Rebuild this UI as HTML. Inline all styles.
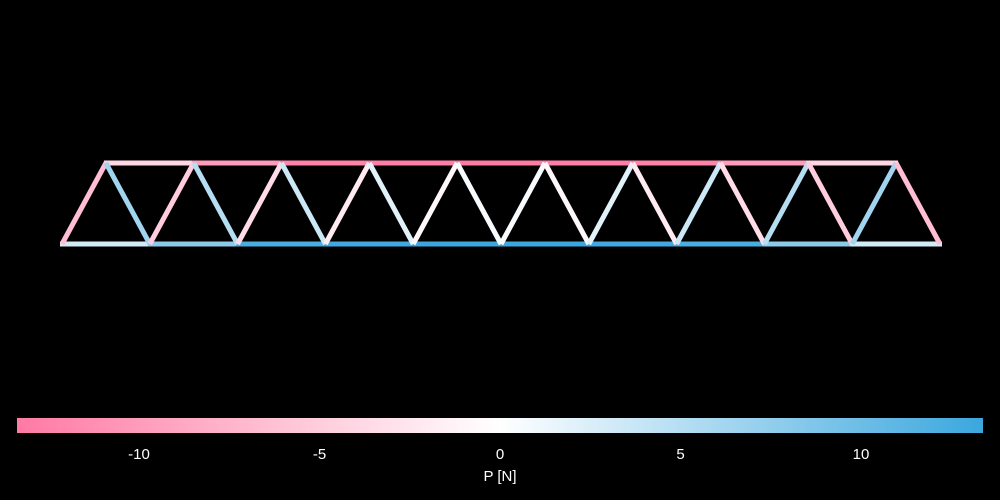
<!DOCTYPE html>
<html><head><meta charset="utf-8"><style>
html,body{margin:0;padding:0;background:#000;}
svg{display:block;}
text{font-family:"Liberation Sans",sans-serif;fill:#fff;}
</style></head><body>
<svg id="c" width="1000" height="500">
<defs><linearGradient id="cg" x1="0" x2="1" y1="0" y2="0">
<stop offset="0" stop-color="#ff7aa4"/><stop offset="0.5" stop-color="#ffffff"/><stop offset="1" stop-color="#3ba7de"/>
</linearGradient></defs>
<g id="members"></g>
<rect x="17" y="418" width="966" height="15" fill="url(#cg)"/>
<g id="ticks"></g>
<text x="500" y="481" font-size="15" text-anchor="middle">P [N]</text>
</svg>
<script>
const bottomForces = [3, 8, 12.5, 13, 13.4, 13.4, 13, 12.5, 8, 3];
const topForces = [-4, -10, -12.5, -13, -13.4, -13, -12.5, -10, -4];
const diagForces = [-6.5, 6.5, -5, 5, -3.5, 3.5, -2, 2, -0.7, 0.5, 0.5, -0.7, 2, -2, 3.5, -3.5, 5, -5, 6.5, -6.5];
const tickValues = [-10, -5, 0, 5, 10];
const nBays = 10;
const vmax = 13.38;

const NS = 'http://www.w3.org/2000/svg';
const x0 = 62, bayW = 87.8, yBot = 244, yTop = 163;
const xb = i => x0 + i * bayW;
const xt = i => x0 + (i + 0.5) * bayW;
const cx = v => 500 + v / vmax * 483;
function color(v) {
  let t = Math.max(-1, Math.min(1, v / vmax));
  const w = [255, 255, 255], p = [255, 122, 164], b = [59, 167, 222];
  const e = t < 0 ? p : b; t = Math.abs(t);
  return 'rgb(' + w.map((c, k) => Math.round(c + (e[k] - c) * t)).join(',') + ')';
}
const g = document.getElementById('members');
function line(x1, y1, x2, y2, v, name) {
  const l = document.createElementNS(NS, 'line');
  l.setAttribute('x1', x1); l.setAttribute('y1', y1);
  l.setAttribute('x2', x2); l.setAttribute('y2', y2);
  l.setAttribute('stroke', color(v)); l.setAttribute('stroke-width', 5);
  l.setAttribute('stroke-linecap', 'butt');
  
  
  g.appendChild(l);
}
bottomForces.forEach((v, i) => line(xb(i) - 2, yBot, xb(i + 1) + 2, yBot, v, 'bottom-chord-' + (i + 1)));
topForces.forEach((v, i) => line(xt(i) - 2, yTop, xt(i + 1) + 2, yTop, v, 'top-chord-' + (i + 1)));
diagForces.forEach((v, k) => {
  const i = Math.floor(k / 2);
  if (k % 2 === 0) line(xb(i), yBot, xt(i), yTop, v, 'diagonal-' + (k + 1));
  else line(xt(i), yTop, xb(i + 1), yBot, v, 'diagonal-' + (k + 1));
});
const tg = document.getElementById('ticks');
tickValues.forEach(v => {
  const t = document.createElementNS(NS, 'text');
  t.setAttribute('x', cx(v)); t.setAttribute('y', 459);
  t.setAttribute('font-size', '15'); t.setAttribute('text-anchor', 'middle');
  t.textContent = v;
  
  
  tg.appendChild(t);
});
</script>
</body></html>
